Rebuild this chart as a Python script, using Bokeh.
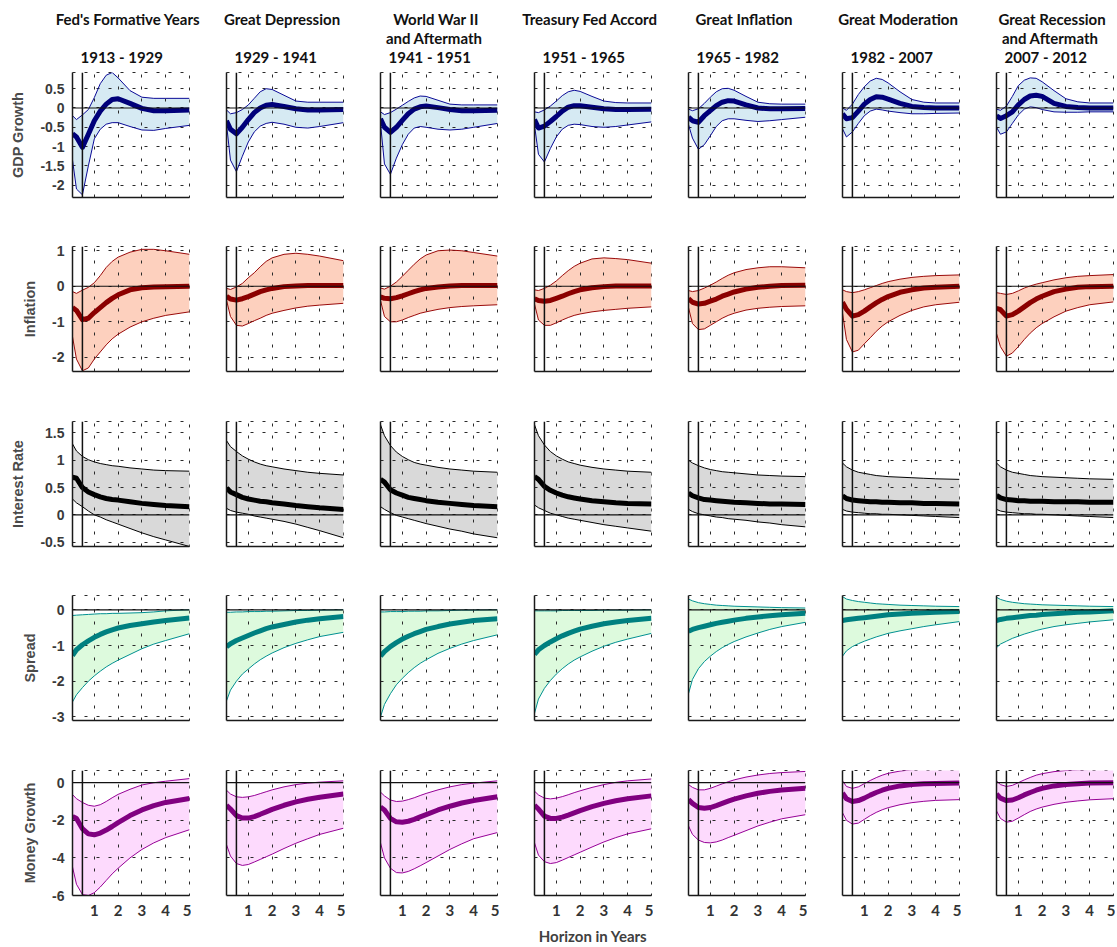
from bokeh.plotting import figure
from bokeh.layouts import column, row
from bokeh.models import Range1d, Span, FixedTicker, ColumnDataSource, CustomJSTickFormatter
from bokeh.core.properties import value
from bokeh.embed import file_html
from bokeh.resources import INLINE

# ---------------- data ----------------
HORIZON = [0.0833, 0.25, 0.5, 0.75, 1.0, 1.25, 1.5, 1.75, 2.0, 2.5, 3.0, 3.5, 4.0, 5.0]
X_TICKS = [1, 2, 3, 4, 5]
VLINE_X = 0.5

ERAS = ["Fed's Formative Years", "Great Depression", "World War II", "Treasury Fed Accord",
        "Great Inflation", "Great Moderation", "Great Recession"]
ERAS_LINE2 = ["", "", "and  Aftermath", "", "", "", "and  Aftermath"]
PERIODS = ["1913 - 1929", "1929 - 1941", "1941 - 1951", "1951 - 1965",
           "1965 - 1982", "1982 - 2007", "2007 - 2012"]
ROW_LABELS = ["GDP Growth", "Inflation", "Interest Rate", "Spread", "Money Growth"]

GDP_TICKS = [-2, -1.5, -1, -0.5, 0, 0.5]
INFL_TICKS = [-2, -1, 0, 1]
RATE_TICKS = [-0.5, 0, 0.5, 1, 1.5]
SPREAD_TICKS = [-3, -2, -1, 0]
MONEY_TICKS = [-6, -4, -2, 0]

gdp_mean = [
    [-0.67, -0.75, -1.02, -0.68, -0.33, -0.08, 0.10, 0.22, 0.24, 0.12, -0.01, -0.07, -0.07, -0.05],
    [-0.33, -0.55, -0.67, -0.50, -0.30, -0.12, 0.00, 0.07, 0.09, 0.04, -0.02, -0.05, -0.05, -0.04],
    [-0.28, -0.50, -0.63, -0.50, -0.32, -0.15, -0.03, 0.03, 0.05, 0.01, -0.04, -0.07, -0.07, -0.06],
    [-0.30, -0.52, -0.47, -0.35, -0.22, -0.08, 0.02, 0.06, 0.06, 0.02, -0.02, -0.04, -0.04, -0.03],
    [-0.24, -0.33, -0.37, -0.20, -0.07, 0.06, 0.15, 0.19, 0.18, 0.08, 0.00, -0.02, -0.02, -0.01],
    [-0.15, -0.28, -0.25, -0.08, 0.10, 0.22, 0.29, 0.28, 0.23, 0.12, 0.04, 0.01, 0.00, 0.00],
    [-0.20, -0.27, -0.20, -0.10, 0.08, 0.22, 0.31, 0.33, 0.30, 0.12, 0.04, 0.01, 0.00, 0.00],
]
gdp_upper = [
    [-0.20, -0.30, -0.18, -0.04, 0.27, 0.63, 0.85, 0.92, 0.78, 0.45, 0.28, 0.25, 0.25, 0.25],
    [-0.05, -0.15, -0.12, -0.04, 0.08, 0.25, 0.42, 0.50, 0.48, 0.33, 0.18, 0.15, 0.15, 0.15],
    [-0.10, -0.17, -0.12, -0.03, 0.07, 0.17, 0.26, 0.31, 0.30, 0.20, 0.10, 0.08, 0.08, 0.08],
    [-0.10, -0.12, -0.05, 0.05, 0.18, 0.32, 0.42, 0.46, 0.43, 0.30, 0.18, 0.14, 0.13, 0.13],
    [-0.03, -0.07, -0.02, 0.12, 0.28, 0.42, 0.50, 0.51, 0.46, 0.30, 0.15, 0.11, 0.10, 0.10],
    [0.00, -0.06, 0.10, 0.35, 0.55, 0.70, 0.77, 0.74, 0.65, 0.42, 0.22, 0.15, 0.13, 0.13],
    [-0.03, -0.06, 0.05, 0.30, 0.58, 0.72, 0.78, 0.77, 0.68, 0.45, 0.24, 0.16, 0.13, 0.13],
]
gdp_lower = [
    [-1.35, -2.10, -2.25, -1.50, -0.80, -0.55, -0.42, -0.38, -0.38, -0.48, -0.57, -0.58, -0.53, -0.45],
    [-0.42, -1.35, -1.65, -1.25, -0.88, -0.62, -0.47, -0.40, -0.37, -0.42, -0.50, -0.52, -0.48, -0.38],
    [-0.40, -1.45, -1.72, -1.30, -0.95, -0.68, -0.52, -0.48, -0.50, -0.55, -0.57, -0.55, -0.50, -0.40],
    [-0.45, -1.20, -1.40, -1.05, -0.75, -0.55, -0.45, -0.42, -0.43, -0.48, -0.50, -0.48, -0.44, -0.36],
    [-0.43, -0.78, -1.07, -0.95, -0.72, -0.48, -0.33, -0.28, -0.28, -0.32, -0.35, -0.33, -0.30, -0.24],
    [-0.54, -0.75, -0.62, -0.40, -0.20, -0.08, -0.03, -0.05, -0.08, -0.12, -0.15, -0.15, -0.14, -0.13],
    [-0.50, -0.68, -0.62, -0.40, -0.18, -0.03, 0.03, 0.01, -0.04, -0.10, -0.11, -0.11, -0.10, -0.10],
]

infl_mean = [
    [-0.60, -0.68, -0.94, -0.90, -0.74, -0.60, -0.46, -0.34, -0.24, -0.10, -0.04, -0.02, -0.01, 0.00],
    [-0.28, -0.36, -0.39, -0.35, -0.29, -0.22, -0.15, -0.10, -0.06, -0.01, 0.01, 0.02, 0.02, 0.02],
    [-0.30, -0.34, -0.35, -0.32, -0.27, -0.21, -0.15, -0.10, -0.06, -0.02, 0.01, 0.02, 0.02, 0.02],
    [-0.35, -0.40, -0.42, -0.40, -0.34, -0.28, -0.21, -0.15, -0.10, -0.04, -0.01, 0.01, 0.01, 0.01],
    [-0.35, -0.45, -0.50, -0.48, -0.42, -0.36, -0.28, -0.22, -0.16, -0.08, -0.03, 0.00, 0.02, 0.03],
    [-0.45, -0.65, -0.84, -0.80, -0.70, -0.58, -0.47, -0.37, -0.29, -0.17, -0.10, -0.05, -0.03, 0.00],
    [-0.62, -0.66, -0.84, -0.80, -0.70, -0.58, -0.46, -0.36, -0.28, -0.15, -0.08, -0.03, -0.01, 0.00],
]
infl_upper = [
    [-0.15, -0.20, -0.11, -0.03, 0.10, 0.30, 0.53, 0.70, 0.82, 0.96, 1.04, 1.04, 1.00, 0.90],
    [-0.06, -0.09, -0.02, 0.08, 0.24, 0.38, 0.55, 0.70, 0.80, 0.90, 0.93, 0.90, 0.85, 0.72],
    [-0.05, -0.08, 0.00, 0.12, 0.28, 0.45, 0.62, 0.77, 0.88, 1.00, 1.02, 1.00, 0.95, 0.85],
    [-0.10, -0.12, -0.06, 0.03, 0.15, 0.30, 0.44, 0.56, 0.65, 0.77, 0.80, 0.78, 0.75, 0.65],
    [-0.12, -0.15, -0.12, -0.05, 0.03, 0.12, 0.22, 0.31, 0.38, 0.47, 0.52, 0.55, 0.55, 0.52],
    [-0.10, -0.15, -0.18, -0.15, -0.10, -0.04, 0.02, 0.08, 0.13, 0.20, 0.25, 0.28, 0.30, 0.32],
    [-0.18, -0.20, -0.23, -0.20, -0.13, -0.05, 0.01, 0.06, 0.10, 0.18, 0.24, 0.28, 0.30, 0.33],
]
infl_lower = [
    [-1.42, -2.05, -2.38, -2.30, -2.05, -1.85, -1.65, -1.48, -1.35, -1.15, -1.00, -0.90, -0.82, -0.72],
    [-0.39, -0.85, -1.10, -1.12, -1.05, -0.97, -0.90, -0.82, -0.76, -0.68, -0.61, -0.56, -0.53, -0.48],
    [-0.40, -0.85, -1.00, -1.00, -0.95, -0.88, -0.82, -0.76, -0.72, -0.65, -0.60, -0.57, -0.55, -0.52],
    [-0.50, -0.95, -1.10, -1.10, -1.03, -0.95, -0.88, -0.82, -0.78, -0.72, -0.68, -0.65, -0.62, -0.58],
    [-0.60, -1.05, -1.22, -1.20, -1.10, -1.00, -0.90, -0.82, -0.76, -0.67, -0.62, -0.59, -0.57, -0.55],
    [-0.75, -1.50, -1.85, -1.80, -1.62, -1.45, -1.27, -1.12, -1.00, -0.82, -0.68, -0.58, -0.52, -0.45],
    [-1.33, -1.70, -1.97, -1.88, -1.70, -1.50, -1.32, -1.17, -1.05, -0.86, -0.70, -0.60, -0.52, -0.44],
]

rate_mean = [
    [0.69, 0.67, 0.50, 0.42, 0.37, 0.33, 0.30, 0.28, 0.27, 0.24, 0.21, 0.19, 0.17, 0.15],
    [0.49, 0.42, 0.37, 0.32, 0.29, 0.27, 0.25, 0.24, 0.22, 0.20, 0.17, 0.15, 0.13, 0.10],
    [0.65, 0.60, 0.46, 0.40, 0.36, 0.32, 0.30, 0.28, 0.26, 0.23, 0.21, 0.19, 0.17, 0.15],
    [0.70, 0.65, 0.52, 0.45, 0.40, 0.36, 0.33, 0.31, 0.29, 0.26, 0.24, 0.22, 0.21, 0.20],
    [0.40, 0.35, 0.31, 0.28, 0.27, 0.26, 0.25, 0.24, 0.23, 0.22, 0.21, 0.20, 0.20, 0.19],
    [0.35, 0.30, 0.27, 0.26, 0.25, 0.24, 0.24, 0.23, 0.23, 0.22, 0.22, 0.21, 0.21, 0.20],
    [0.36, 0.31, 0.28, 0.27, 0.26, 0.26, 0.25, 0.25, 0.25, 0.24, 0.24, 0.24, 0.23, 0.23],
]
rate_upper = [
    [1.30, 1.17, 1.07, 1.01, 0.97, 0.94, 0.92, 0.90, 0.89, 0.86, 0.84, 0.82, 0.81, 0.80],
    [1.36, 1.25, 1.16, 1.08, 1.02, 0.97, 0.93, 0.90, 0.88, 0.84, 0.81, 0.78, 0.76, 0.73],
    [1.65, 1.45, 1.27, 1.15, 1.07, 1.01, 0.96, 0.93, 0.91, 0.87, 0.84, 0.82, 0.80, 0.78],
    [1.65, 1.45, 1.28, 1.16, 1.08, 1.02, 0.97, 0.94, 0.91, 0.87, 0.84, 0.82, 0.80, 0.78],
    [1.00, 0.95, 0.90, 0.86, 0.83, 0.81, 0.79, 0.78, 0.77, 0.75, 0.73, 0.72, 0.71, 0.70],
    [0.95, 0.88, 0.82, 0.78, 0.76, 0.74, 0.72, 0.71, 0.70, 0.69, 0.68, 0.67, 0.66, 0.65],
    [0.95, 0.88, 0.82, 0.78, 0.76, 0.74, 0.72, 0.71, 0.70, 0.69, 0.68, 0.67, 0.66, 0.65],
]
rate_lower = [
    [0.29, 0.22, 0.15, 0.07, 0.00, -0.04, -0.09, -0.13, -0.17, -0.25, -0.33, -0.40, -0.46, -0.58],
    [0.12, 0.08, 0.05, 0.03, 0.01, -0.02, -0.04, -0.06, -0.08, -0.12, -0.17, -0.23, -0.29, -0.42],
    [0.15, 0.10, 0.04, -0.01, -0.04, -0.07, -0.10, -0.13, -0.16, -0.21, -0.26, -0.30, -0.35, -0.42],
    [0.18, 0.13, 0.08, 0.03, 0.00, -0.03, -0.06, -0.08, -0.10, -0.14, -0.18, -0.21, -0.24, -0.30],
    [0.10, 0.06, 0.02, 0.00, -0.02, -0.04, -0.05, -0.07, -0.08, -0.10, -0.13, -0.15, -0.18, -0.22],
    [0.10, 0.07, 0.05, 0.04, 0.03, 0.02, 0.02, 0.01, 0.01, 0.00, -0.01, -0.02, -0.03, -0.05],
    [0.10, 0.07, 0.05, 0.04, 0.03, 0.02, 0.02, 0.01, 0.01, 0.00, -0.01, -0.02, -0.03, -0.05],
]

spread_mean = [
    [-1.28, -1.12, -0.98, -0.87, -0.77, -0.69, -0.62, -0.56, -0.51, -0.44, -0.39, -0.34, -0.30, -0.23],
    [-1.04, -0.95, -0.86, -0.79, -0.72, -0.65, -0.59, -0.53, -0.48, -0.41, -0.34, -0.29, -0.25, -0.19],
    [-1.30, -1.17, -1.03, -0.92, -0.82, -0.74, -0.67, -0.61, -0.55, -0.47, -0.40, -0.35, -0.30, -0.25],
    [-1.25, -1.12, -1.00, -0.90, -0.81, -0.73, -0.66, -0.60, -0.54, -0.46, -0.39, -0.34, -0.30, -0.24],
    [-0.60, -0.55, -0.50, -0.46, -0.42, -0.38, -0.35, -0.32, -0.29, -0.24, -0.20, -0.17, -0.14, -0.10],
    [-0.30, -0.28, -0.26, -0.24, -0.22, -0.20, -0.18, -0.16, -0.14, -0.12, -0.10, -0.08, -0.07, -0.05],
    [-0.30, -0.27, -0.24, -0.22, -0.20, -0.18, -0.16, -0.15, -0.13, -0.11, -0.09, -0.07, -0.06, -0.03],
]
spread_upper = [
    [-0.16, -0.15, -0.14, -0.13, -0.12, -0.11, -0.11, -0.10, -0.10, -0.09, -0.08, -0.06, -0.03, 0.00],
    [-0.07, -0.07, -0.06, -0.06, -0.05, -0.05, -0.05, -0.04, -0.04, -0.03, -0.02, -0.02, -0.01, 0.00],
    [-0.06, -0.06, -0.05, -0.05, -0.05, -0.04, -0.04, -0.04, -0.03, -0.03, -0.02, -0.01, -0.01, 0.00],
    [-0.03, -0.03, -0.03, -0.03, -0.03, -0.02, -0.02, -0.02, -0.02, -0.02, -0.01, -0.01, -0.01, 0.00],
    [0.30, 0.25, 0.20, 0.17, 0.15, 0.13, 0.12, 0.11, 0.10, 0.09, 0.08, 0.07, 0.06, 0.05],
    [0.37, 0.30, 0.26, 0.23, 0.21, 0.19, 0.17, 0.16, 0.15, 0.13, 0.12, 0.11, 0.10, 0.09],
    [0.35, 0.29, 0.24, 0.21, 0.19, 0.17, 0.16, 0.15, 0.14, 0.13, 0.12, 0.11, 0.10, 0.09],
]
spread_lower = [
    [-2.58, -2.38, -2.18, -2.00, -1.85, -1.72, -1.60, -1.50, -1.41, -1.25, -1.09, -0.96, -0.86, -0.67],
    [-2.55, -2.25, -2.00, -1.80, -1.66, -1.52, -1.40, -1.30, -1.21, -1.06, -0.94, -0.84, -0.75, -0.63],
    [-3.00, -2.65, -2.35, -2.10, -1.92, -1.76, -1.62, -1.50, -1.40, -1.22, -1.08, -0.96, -0.86, -0.70],
    [-2.90, -2.50, -2.20, -1.98, -1.80, -1.65, -1.52, -1.41, -1.32, -1.16, -1.02, -0.91, -0.82, -0.66],
    [-2.35, -1.95, -1.65, -1.45, -1.30, -1.17, -1.06, -0.97, -0.89, -0.76, -0.65, -0.55, -0.47, -0.35],
    [-1.30, -1.15, -1.03, -0.95, -0.88, -0.82, -0.76, -0.71, -0.66, -0.59, -0.53, -0.47, -0.42, -0.33],
    [-1.06, -0.96, -0.88, -0.80, -0.74, -0.68, -0.63, -0.58, -0.54, -0.47, -0.42, -0.38, -0.34, -0.28],
]

money_mean = [
    [-1.79, -1.90, -2.45, -2.72, -2.77, -2.68, -2.52, -2.33, -2.12, -1.75, -1.45, -1.22, -1.05, -0.84],
    [-1.20, -1.40, -1.75, -1.88, -1.88, -1.80, -1.68, -1.55, -1.42, -1.20, -1.02, -0.88, -0.77, -0.60],
    [-1.30, -1.45, -1.90, -2.08, -2.10, -2.05, -1.95, -1.82, -1.70, -1.45, -1.25, -1.08, -0.95, -0.75],
    [-1.20, -1.40, -1.78, -1.90, -1.90, -1.83, -1.72, -1.60, -1.48, -1.27, -1.10, -0.96, -0.85, -0.70],
    [-0.90, -1.10, -1.32, -1.36, -1.32, -1.22, -1.10, -0.98, -0.87, -0.70, -0.56, -0.46, -0.39, -0.30],
    [-0.55, -0.85, -1.00, -0.95, -0.82, -0.66, -0.52, -0.40, -0.30, -0.17, -0.10, -0.06, -0.04, -0.02],
    [-0.60, -0.82, -0.95, -0.92, -0.80, -0.65, -0.52, -0.40, -0.30, -0.17, -0.10, -0.05, -0.02, 0.00],
]
money_upper = [
    [-0.63, -0.85, -1.05, -1.20, -1.25, -1.17, -1.00, -0.80, -0.62, -0.35, -0.12, 0.00, 0.08, 0.22],
    [-0.40, -0.60, -0.75, -0.78, -0.75, -0.68, -0.58, -0.48, -0.38, -0.22, -0.10, -0.02, 0.03, 0.10],
    [-0.50, -0.70, -0.92, -1.00, -0.98, -0.90, -0.80, -0.68, -0.57, -0.38, -0.22, -0.10, -0.02, 0.10],
    [-0.45, -0.65, -0.82, -0.86, -0.82, -0.74, -0.64, -0.53, -0.43, -0.25, -0.10, 0.02, 0.10, 0.20],
    [-0.10, -0.25, -0.38, -0.38, -0.30, -0.18, -0.06, 0.05, 0.15, 0.30, 0.41, 0.49, 0.54, 0.60],
    [0.10, -0.20, -0.30, -0.22, -0.05, 0.12, 0.27, 0.40, 0.50, 0.62, 0.69, 0.72, 0.74, 0.75],
    [0.10, -0.10, -0.20, -0.14, 0.00, 0.15, 0.28, 0.40, 0.48, 0.59, 0.65, 0.68, 0.70, 0.72],
]
money_lower = [
    [-4.48, -5.40, -5.95, -6.00, -5.85, -5.55, -5.20, -4.85, -4.55, -4.00, -3.55, -3.20, -2.92, -2.50],
    [-3.30, -3.90, -4.30, -4.40, -4.35, -4.22, -4.08, -3.94, -3.80, -3.50, -3.22, -2.98, -2.75, -2.42],
    [-3.20, -4.00, -4.55, -4.78, -4.80, -4.72, -4.58, -4.42, -4.25, -3.90, -3.55, -3.25, -2.98, -2.65],
    [-3.20, -3.85, -4.20, -4.30, -4.25, -4.12, -3.98, -3.84, -3.70, -3.42, -3.15, -2.92, -2.72, -2.45],
    [-2.30, -2.75, -3.05, -3.18, -3.20, -3.15, -3.05, -2.92, -2.80, -2.55, -2.30, -2.10, -1.92, -1.70],
    [-1.60, -2.00, -2.20, -2.15, -1.95, -1.75, -1.58, -1.44, -1.33, -1.17, -1.06, -0.99, -0.94, -0.90],
    [-1.50, -1.90, -2.10, -2.05, -1.88, -1.70, -1.53, -1.40, -1.30, -1.15, -1.04, -0.97, -0.91, -0.85],
]

# ---------------- styling / layout ----------------
ROWS = [
    dict(mean=gdp_mean, lo=gdp_lower, hi=gdp_upper, ticks=GDP_TICKS, yr=(-2.32, 0.92),
         line="#00007A", band="#0A0A96", fill="#D6EAF3", vline=True),
    dict(mean=infl_mean, lo=infl_lower, hi=infl_upper, ticks=INFL_TICKS, yr=(-2.4, 1.12),
         line="#8B0000", band="#9A0A0A", fill="#FDD0BE", vline=True),
    dict(mean=rate_mean, lo=rate_lower, hi=rate_upper, ticks=RATE_TICKS, yr=(-0.58, 1.71),
         line="#000000", band="#000000", fill="#D9D9D9", vline=True),
    dict(mean=spread_mean, lo=spread_lower, hi=spread_upper, ticks=SPREAD_TICKS, yr=(-3.1, 0.4),
         line="#008080", band="#009090", fill="#DDFADD", vline=False),
    dict(mean=money_mean, lo=money_lower, hi=money_upper, ticks=MONEY_TICKS, yr=(-6.0, 0.65),
         line="#800080", band="#960096", fill="#FDDAFD", vline=True),
]

FRAME_W, FRAME_H = 117, 125
LEFT0, LEFT, RIGHT, TOP = 72, 35, 2, 2
BOTTOMS = [47, 48, 47, 48, 52]
HEADER_H = 70
NCOL = 7
TOTAL_W = LEFT0 + FRAME_W + RIGHT + (NCOL - 1) * (LEFT + FRAME_W + RIGHT)
COL_STEP = LEFT + FRAME_W + RIGHT

fmt = CustomJSTickFormatter(code="return String(tick)")
GRID_COLOR = "#2a2a2a"
DASH = "3 9"

layout_rows = []

# header
hdr = figure(frame_width=TOTAL_W, frame_height=HEADER_H, x_range=Range1d(0, TOTAL_W),
             y_range=Range1d(HEADER_H, 0), min_border=0, output_backend="svg",
             toolbar_location=None, tools="")
hdr.axis.visible = False
hdr.grid.visible = False
hdr.outline_line_color = None
frame_lefts = [LEFT0 + c * COL_STEP for c in range(NCOL)]
centers = [fl + FRAME_W / 2 - 3 for fl in frame_lefts]
hfont = dict(text_font=value("Lato"), text_font_size="15px", text_font_style="bold",
             text_color="#111111", text_baseline="middle")
hdr.text(x=centers, y=[18] * NCOL, text=ERAS, text_align="center", **hfont)
l2 = [(centers[i], t) for i, t in enumerate(ERAS_LINE2) if t]
hdr.text(x=[a for a, _ in l2], y=[37] * len(l2), text=[t for _, t in l2], text_align="center", **hfont)
hdr.text(x=[fl + 8 for fl in frame_lefts], y=[56] * NCOL, text=PERIODS, text_align="left", **hfont)
layout_rows.append(hdr)

for r, cfg in enumerate(ROWS):
    figs = []
    for c in range(NCOL):
        p = figure(frame_width=FRAME_W, frame_height=FRAME_H,
                   x_range=Range1d(HORIZON[0], 5), y_range=Range1d(*cfg["yr"]),
                   output_backend="svg", toolbar_location=None, tools="",
                   min_border_left=LEFT0 if c == 0 else LEFT, min_border_right=RIGHT,
                   min_border_top=TOP, min_border_bottom=BOTTOMS[r])
        p.outline_line_color = GRID_COLOR
        p.outline_line_dash = DASH
        p.outline_line_width = 1
        p.xgrid.ticker = FixedTicker(ticks=X_TICKS)
        p.ygrid.ticker = FixedTicker(ticks=cfg["ticks"])
        p.grid.grid_line_color = GRID_COLOR
        p.grid.grid_line_dash = DASH
        p.grid.grid_line_width = 1

        for ax in (p.xaxis[0], p.yaxis[0]):
            ax.axis_line_color = "#1a1a1a"
            ax.axis_line_width = 1.5
            ax.major_tick_in = 0
            ax.major_tick_out = 0
            ax.minor_tick_line_color = None

        if r == len(ROWS) - 1:
            p.xaxis.ticker = FixedTicker(ticks=X_TICKS)
            p.xaxis.formatter = fmt
            p.xaxis.major_label_text_font = "Lato"
            p.xaxis.major_label_text_font_size = "15px"
            p.xaxis.major_label_text_font_style = "bold"
            p.xaxis.major_label_text_color = "#333333"
            p.xaxis.major_label_standoff = 9
            if c == 3:
                p.xaxis.axis_label = "Horizon in Years"
                p.xaxis.axis_label_text_font = "Lato"
                p.xaxis.axis_label_text_font_size = "15px"
                p.xaxis.axis_label_text_font_style = "bold"
                p.xaxis.axis_label_text_color = "#404040"
                p.xaxis.axis_label_standoff = 8
        else:
            p.xaxis.ticker = FixedTicker(ticks=[])

        if c == 0:
            p.yaxis.ticker = FixedTicker(ticks=cfg["ticks"])
            p.yaxis.formatter = fmt
            p.yaxis.major_label_text_font = "Liberation Sans"
            p.yaxis.major_label_text_font_size = "14px"
            p.yaxis.major_label_text_font_style = "bold"
            p.yaxis.major_label_text_color = "#3a3a3a"
            p.yaxis.major_label_standoff = 8
            p.yaxis.axis_label = ROW_LABELS[r]
            p.yaxis.axis_label_text_font = "Liberation Sans"
            p.yaxis.axis_label_text_font_size = "14.5px"
            p.yaxis.axis_label_text_font_style = "bold"
            p.yaxis.axis_label_text_color = "#4a4a4a"
            p.yaxis.axis_label_standoff = 11
        else:
            p.yaxis.ticker = FixedTicker(ticks=[])

        src = ColumnDataSource(dict(x=HORIZON, mean=cfg["mean"][c], lo=cfg["lo"][c], hi=cfg["hi"][c]))
        p.varea(x="x", y1="lo", y2="hi", source=src, fill_color=cfg["fill"], level="image")
        p.add_layout(Span(location=0, dimension="width", line_color="#111111", line_width=1.2, level="glyph"))
        if cfg["vline"]:
            p.add_layout(Span(location=VLINE_X, dimension="height", line_color="#111111", line_width=1.5, level="glyph"))
        p.line(x="x", y="lo", source=src, line_color=cfg["band"], line_width=1)
        p.line(x="x", y="hi", source=src, line_color=cfg["band"], line_width=1)
        p.line(x="x", y="mean", source=src, line_color=cfg["line"], line_width=5, line_join="round")
        figs.append(p)
    layout_rows.append(row(*figs))

page = column(*layout_rows)
open("out.html", "w").write(file_html(page, INLINE))
